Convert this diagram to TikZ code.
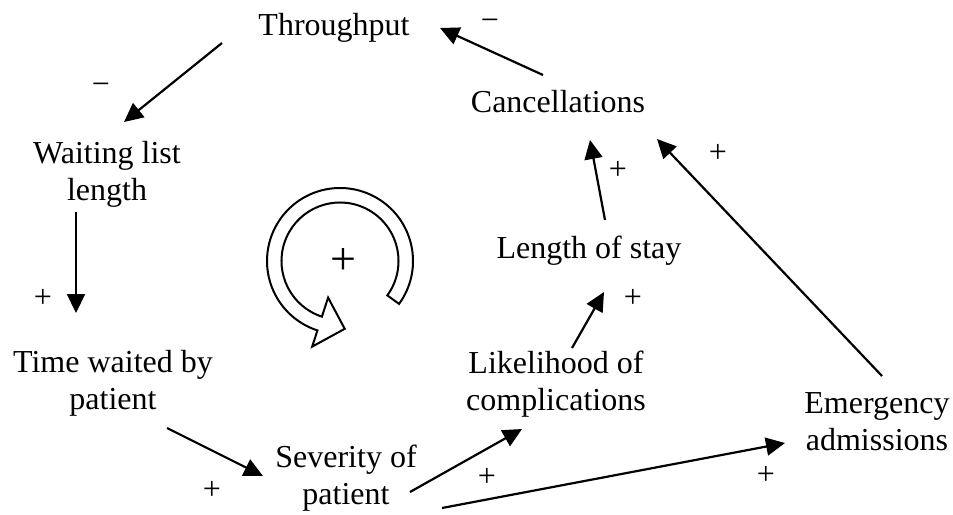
\documentclass[tikz,border=0pt]{standalone}
\usepackage{fontspec}
\setmainfont{Liberation Serif}
\usetikzlibrary{arrows.meta,calc}
\begin{document}
\begin{tikzpicture}[x=1pt,y=1pt,
  lbl/.style={font=\fontsize{32}{37}\selectfont, inner sep=0pt, anchor=base, align=center},
  sgn/.style={font=\fontsize{32}{37}\selectfont, inner sep=0pt},
  arr/.style={line width=2.2pt, -{Triangle[length=19pt,width=18pt]}},
  loopsym/.style={line width=2pt, line join=miter, fill=white}]
\useasboundingbox (0,0) rectangle (953,-514);
% nodes (base = baseline of the last line)
\node[lbl] (thr)  at (334,-35)  {Throughput};
\node[lbl] (wait) at (107,-200) {Waiting list\\length};
\node[lbl] (time) at (113,-409) {Time waited by\\patient};
\node[lbl] (sev)  at (346,-504) {Severity of\\patient};
\node[lbl] (like) at (556,-410) {Likelihood of\\complications};
\node[lbl] (len)  at (589,-258) {Length of stay};
\node[lbl] (canc) at (558,-112) {Cancellations};
\node[lbl] (emer) at (877,-450) {Emergency\\admissions};
% connectors
\draw[arr] ($(thr.base)+(-112,-8)$) -- ($(wait.base)+(17,78)$);
\draw[arr] ($(wait.base)+(-31,-12)$) -- ($(time.base)+(-37,96)$);
\draw[arr] ($(time.base)+(54,-19)$) -- ($(sev.base)+(-83,28)$);
\draw[arr] ($(sev.base)+(64,12)$) -- ($(like.base)+(-34,-19)$);
\draw[arr] ($(sev.base)+(96,-4)$) -- ($(emer.base)+(-92,7)$);
\draw[arr] ($(like.base)+(16,62)$) -- ($(len.base)+(15,-34)$);
\draw[arr] ($(len.base)+(16,38)$) -- ($(canc.base)+(32,-28)$);
\draw[arr] ($(emer.base)+(5,74)$) -- ($(canc.base)+(99,-27)$);
\draw[arr] ($(canc.base)+(-15,37)$) -- ($(thr.base)+(106,7)$);
% signs
\node[sgn] (s1) at (101,-89)  {−};
\node[sgn] (s2) at (43,-298)  {+};
\node[sgn] (s3) at (212,-490) {+};
\node[sgn] (s4) at (487,-477) {+};
\node[sgn] (s5) at (766,-475) {+};
\node[sgn] (s6) at (633,-298) {+};
\node[sgn] (s7) at (618,-170) {+};
\node[sgn] (s8) at (718,-153) {+};
\node[sgn] (s9) at (490,-25)  {−};
% loop symbol
\coordinate (lc) at (340,-261);
\draw[loopsym] ($(lc)+(-36:73)$) arc[start angle=-36, end angle=252, radius=73pt]
  -- ($(lc)+(252:90)$) -- ($(lc)+(274:68)$) -- ($(lc)+(252:38.5)$)
  -- ($(lc)+(252:58.5)$) arc[start angle=252, end angle=-36, radius=58.5pt] -- cycle;
\node[font=\fontsize{46}{50}\selectfont, inner sep=0pt] (lp) at (343,-262) {+};
\end{tikzpicture}
\end{document}
